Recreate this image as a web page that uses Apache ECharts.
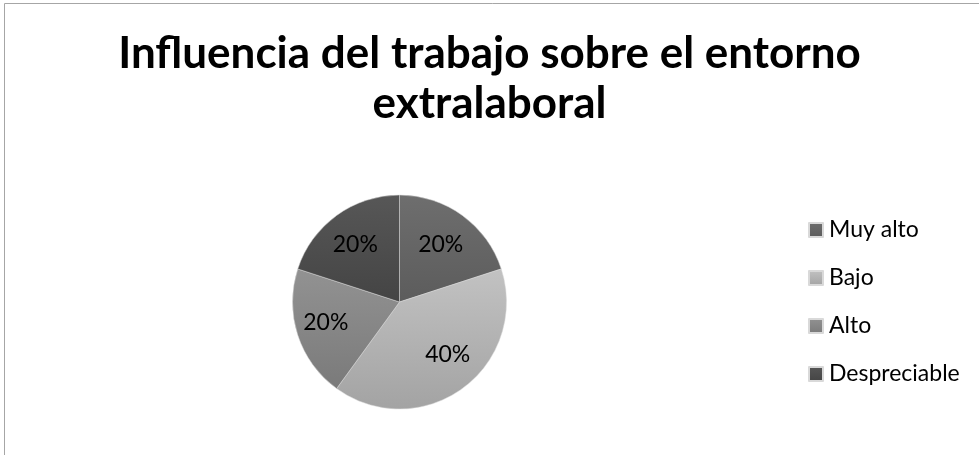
<!DOCTYPE html>
<html>
<head>
<meta charset="utf-8">
<script src="https://cdn.jsdelivr.net/npm/echarts@6/dist/echarts.min.js"></script>
<style>
html,body{margin:0;padding:0;background:#fff;}
#c{width:979px;height:455px;}
</style>
</head>
<body>
<div id="c"></div>
<script>
const titleText = 'Influencia del trabajo sobre el entorno\nextralaboral';
const categories = ['Muy alto', 'Bajo', 'Alto', 'Despreciable'];
const values = [20, 40, 20, 20];

const sliceColors = [
  ['#6e6e6e', '#5c5c5c'],
  ['#c2c2c2', '#a3a3a3'],
  ['#929292', '#7a7a7a'],
  ['#575757', '#444444']
];
const labelOffsets = [[8, -12], [15, 7], [-20, 3], [-11, -12]];

function grad(c) {
  return new echarts.graphic.LinearGradient(0, 0, 0, 1, [
    { offset: 0, color: c[0] }, { offset: 1, color: c[1] }
  ]);
}

const total = values.reduce((a, b) => a + b, 0);
const chart = echarts.init(document.getElementById('c'));
chart.setOption({
  animation: false,
  title: {
    text: titleText,
    left: 'center',
    top: 24,
    textStyle: { fontFamily: 'Lato', fontWeight: 'bold', fontSize: 44, lineHeight: 50, color: '#000' }
  },
  graphic: [{
    type: 'rect',
    shape: { x: 4.5, y: 3.5, width: 1100, height: 600 },
    style: { fill: 'none', stroke: '#a6a6a6', lineWidth: 1 },
    silent: true
  }],
  legend: {
    orient: 'vertical',
    left: 803,
    top: 213,
    itemWidth: 14,
    itemHeight: 14,
    itemGap: 24,
    icon: 'rect',
    textStyle: { fontFamily: 'Lato', fontSize: 23, lineHeight: 24, color: '#000', padding: [0, 0, 0, 1] },
    data: categories
  },
  series: [{
    type: 'pie',
    center: [399.5, 302],
    radius: 107,
    startAngle: 90,
    clockwise: true,
    avoidLabelOverlap: false,
    itemStyle: { borderColor: '#d9d9d9', borderWidth: 0.5 },
    label: {
      show: true,
      position: 'inside',
      fontFamily: 'Lato',
      fontSize: 23,
      color: '#000',
      formatter: p => Math.round(p.value / total * 100) + '%'
    },
    labelLine: { show: false },
    data: categories.map((n, i) => ({
      name: n,
      value: values[i],
      itemStyle: { color: grad(sliceColors[i]) },
      label: { offset: labelOffsets[i] }
    }))
  }]
});
</script>
</body>
</html>
